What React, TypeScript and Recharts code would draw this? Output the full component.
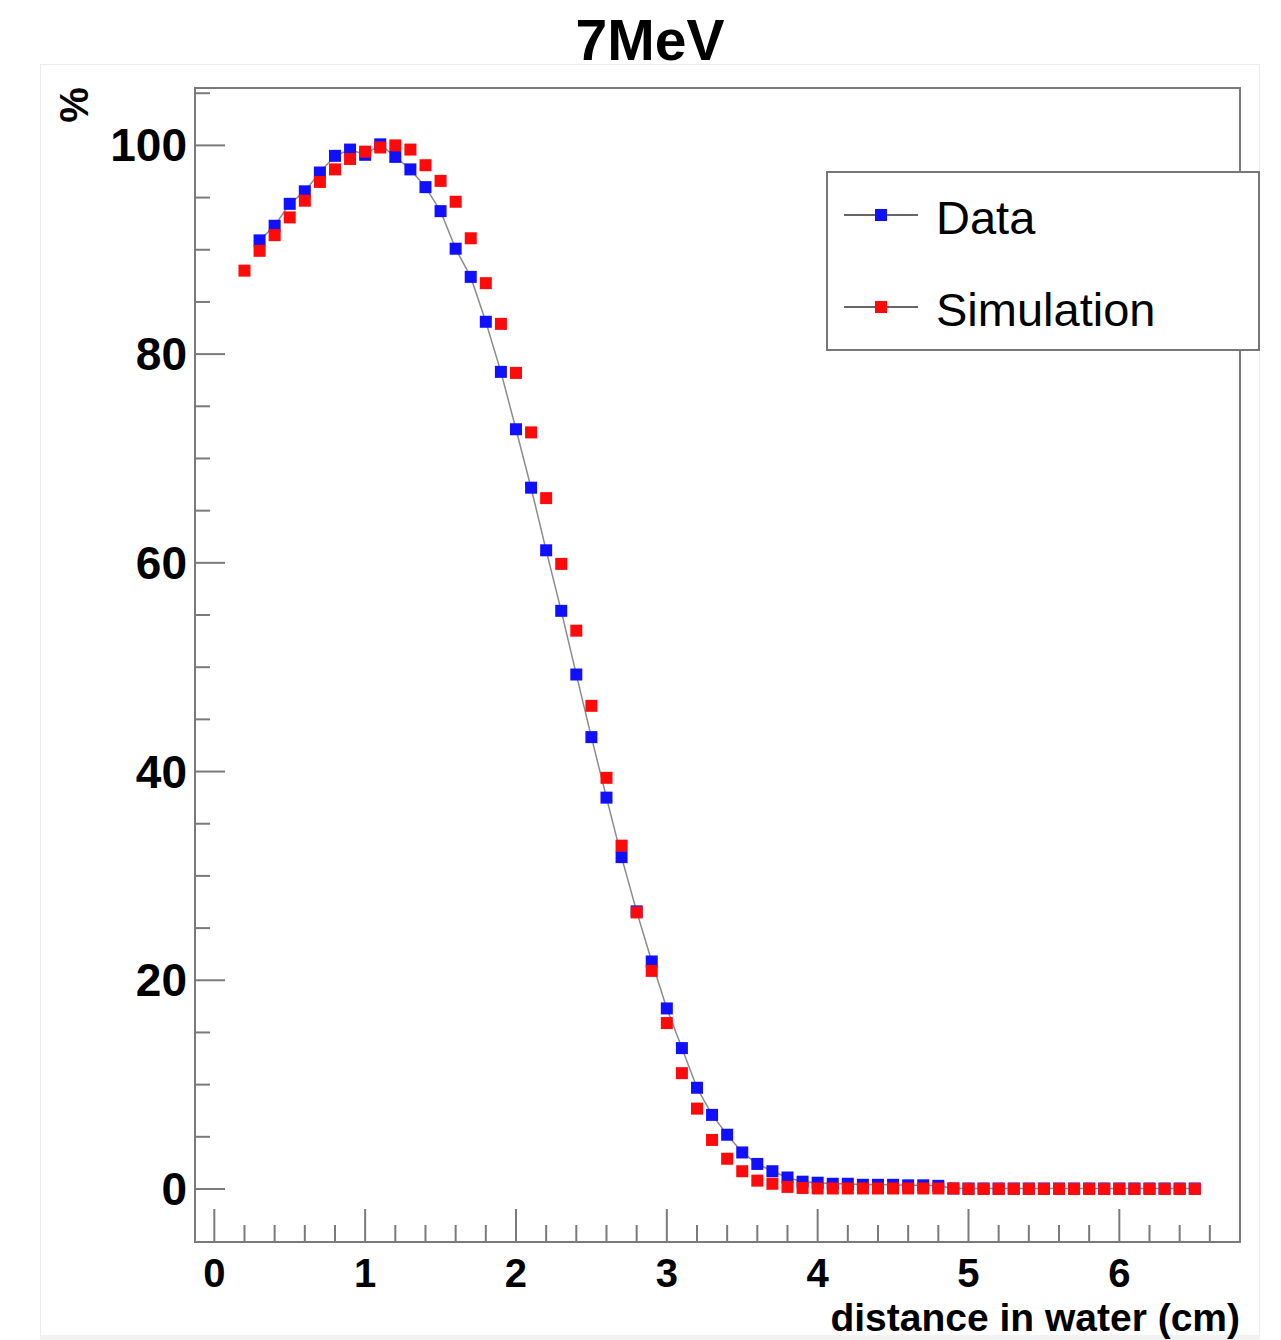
import React from "react";
import { ScatterChart, Scatter, XAxis, YAxis, Legend, ReferenceArea } from "recharts";

const FONT = '"Liberation Sans", Arial, Helvetica, sans-serif';

// depth in water (cm), 0.2 .. 6.5 in 0.1 steps
const depth = Array.from({ length: 64 }, (_, i) => (i + 2) / 10);

// measured data, starts at 0.3 cm
const dataPct = [
  90.9, 92.3, 94.4, 95.6, 97.4, 99.0, 99.6,
  99.1, 100.1, 98.9, 97.7, 96.0, 93.7, 90.1, 87.4, 83.1, 78.3,
  72.8, 67.2, 61.2, 55.4, 49.3, 43.3, 37.5, 31.8, 26.6, 21.8,
  17.3, 13.5, 9.7, 7.1, 5.2, 3.5, 2.4, 1.7, 1.1, 0.7,
  0.6, 0.5, 0.5, 0.4, 0.4, 0.4, 0.35, 0.35, 0.3, 0.05,
  0.05, 0.05, 0.05, 0.05, 0.05, 0.05, 0.05, 0.05, 0.05, 0.05,
  0.05, 0.05, 0.05, 0.05, 0.05, 0.05,
];

// simulation, starts at 0.2 cm
const simPct = [
  88.0, 89.9, 91.4, 93.1, 94.7, 96.5, 97.7, 98.7,
  99.4, 99.8, 100.0, 99.6, 98.1, 96.6, 94.6, 91.1, 86.8, 82.9,
  78.2, 72.5, 66.2, 59.9, 53.5, 46.3, 39.4, 32.9, 26.5, 20.9,
  15.9, 11.1, 7.7, 4.7, 2.9, 1.7, 0.8, 0.5, 0.2, 0.1,
  0.05, 0.05, 0.05, 0.05, 0.05, 0.05, 0.05, 0.05, 0.05, 0.05,
  0, 0, 0, 0, 0, 0, 0, 0, 0, 0,
  0, 0, 0, 0, 0, 0,
];

const xTicks = Array.from({ length: 35 }, (_, i) => (i * 2) / 10);
const yTicks = Array.from({ length: 22 }, (_, i) => i * 5);
const xMajor = [0, 1, 2, 3, 4, 5, 6];
const yMajor = [0, 20, 40, 60, 80, 100];

const X_DOMAIN: [number, number] = [-0.128, 6.8];
const Y_DOMAIN: [number, number] = [-5.08, 105.5];

const dataPoints = dataPct.map((v, i) => ({ x: depth[i + 1], y: v }));
const simPoints = simPct.map((v, i) => ({ x: depth[i], y: v }));

const square = (color: string) => (props: any) => {
  const { cx, cy } = props;
  if (cx == null || cy == null) return <g />;
  return <rect x={cx - 6} y={cy - 6} width={12} height={12} fill={color} />;
};

const XTick = (props: any) => {
  const { x, y, payload } = props;
  const v = payload.value;
  const major = xMajor.some((m) => Math.abs(m - v) < 1e-6);
  return (
    <g>
      <line x1={x} x2={x} y1={y} y2={y - (major ? 33 : 17)} stroke="#7a7a7a" strokeWidth={2} />
      {major && (
        <text x={x} y={y + 45} textAnchor="middle" fontSize={40} fontWeight="bold" fontFamily={FONT} fill="#000">
          {Math.round(v)}
        </text>
      )}
    </g>
  );
};

const YTick = (props: any) => {
  const { x, y, payload } = props;
  const v = payload.value;
  const major = yMajor.includes(v);
  return (
    <g>
      <line x1={x} x2={x + (major ? 30 : 15)} y1={y} y2={y} stroke="#7a7a7a" strokeWidth={2} />
      {major && (
        <text x={x - 8} y={y + 16} textAnchor="end" fontSize={46} fontWeight="bold" fontFamily={FONT} fill="#000">
          {v}
        </text>
      )}
    </g>
  );
};

const LegendBox = () => (
  <div
    style={{
      width: 434,
      height: 180,
      boxSizing: "border-box",
      border: "2px solid #777",
      background: "#fff",
    }}
  >
    <svg width={430} height={176} style={{ display: "block" }}>
      <line x1={16} x2={90} y1={42} y2={42} stroke="#666" strokeWidth={2} />
      <rect x={47} y={36} width={12} height={12} fill="#1010ff" />
      <text x={108} y={61} fontSize={47} fontFamily={FONT} fill="#000">Data</text>
      <line x1={16} x2={90} y1={134} y2={134} stroke="#666" strokeWidth={2} />
      <rect x={47} y={128} width={12} height={12} fill="#ff0a0a" />
      <text x={108} y={153} fontSize={47} fontFamily={FONT} fill="#000">Simulation</text>
    </svg>
  </div>
);

export default function App() {
  return (
    <div style={{ position: "absolute", left: 0, top: 0, width: 1281, height: 1340, background: "#fff" }}>
      <div
        style={{
          position: "absolute",
          left: 40,
          top: 64,
          width: 1218,
          height: 1270,
          border: "1px solid #ececec",
          borderBottom: "5px solid #f2f2f2",
        }}
      />
      <ScatterChart width={1281} height={1340} margin={{ top: 88, right: 41, bottom: 38, left: 95 }}>
        <XAxis
          type="number"
          dataKey="x"
          domain={X_DOMAIN}
          ticks={xTicks}
          interval={0}
          height={60}
          tickSize={0}
          tickMargin={0}
          axisLine={false}
          tickLine={false}
          tick={<XTick />}
          allowDataOverflow
        />
        <YAxis
          type="number"
          dataKey="y"
          domain={Y_DOMAIN}
          ticks={yTicks}
          interval={0}
          width={100}
          tickSize={0}
          tickMargin={0}
          axisLine={false}
          tickLine={false}
          tick={<YTick />}
          allowDataOverflow
        />
        <ReferenceArea
          x1={X_DOMAIN[0]}
          x2={X_DOMAIN[1]}
          y1={Y_DOMAIN[0]}
          y2={Y_DOMAIN[1]}
          fill="none"
          stroke="#7a7a7a"
          strokeWidth={2}
          ifOverflow="visible"
        />
        <Scatter
          name="Data"
          data={dataPoints}
          line={{ stroke: "#8c8c8c", strokeWidth: 1.5 }}
          lineType="joint"
          shape={square("#1010ff")}
          isAnimationActive={false}
        />
        <Scatter name="Simulation" data={simPoints} shape={square("#ff0a0a")} isAnimationActive={false} />
        <Legend
          layout="vertical"
          align="center"
          verticalAlign="middle"
          wrapperStyle={{ left: 826, top: 171, width: 434, height: 180 }}
          content={() => <LegendBox />}
        />
      </ScatterChart>
      <svg
        width={1281}
        height={1340}
        style={{ position: "absolute", left: 0, top: 0, pointerEvents: "none" }}
      >
        <text x={650} y={60} textAnchor="middle" fontSize={57} fontWeight="bold" fontFamily={FONT} fill="#000">
          7MeV
        </text>
        <text x={1240} y={1331} textAnchor="end" fontSize={39} fontWeight="bold" fontFamily={FONT} fill="#000">
          distance in water (cm)
        </text>
        <text
          x={88}
          y={105}
          textAnchor="middle"
          fontSize={40}
          fontWeight="bold"
          fontFamily={FONT}
          fill="#000"
          transform="rotate(-90 88 105)"
        >
          %
        </text>
      </svg>
    </div>
  );
}
